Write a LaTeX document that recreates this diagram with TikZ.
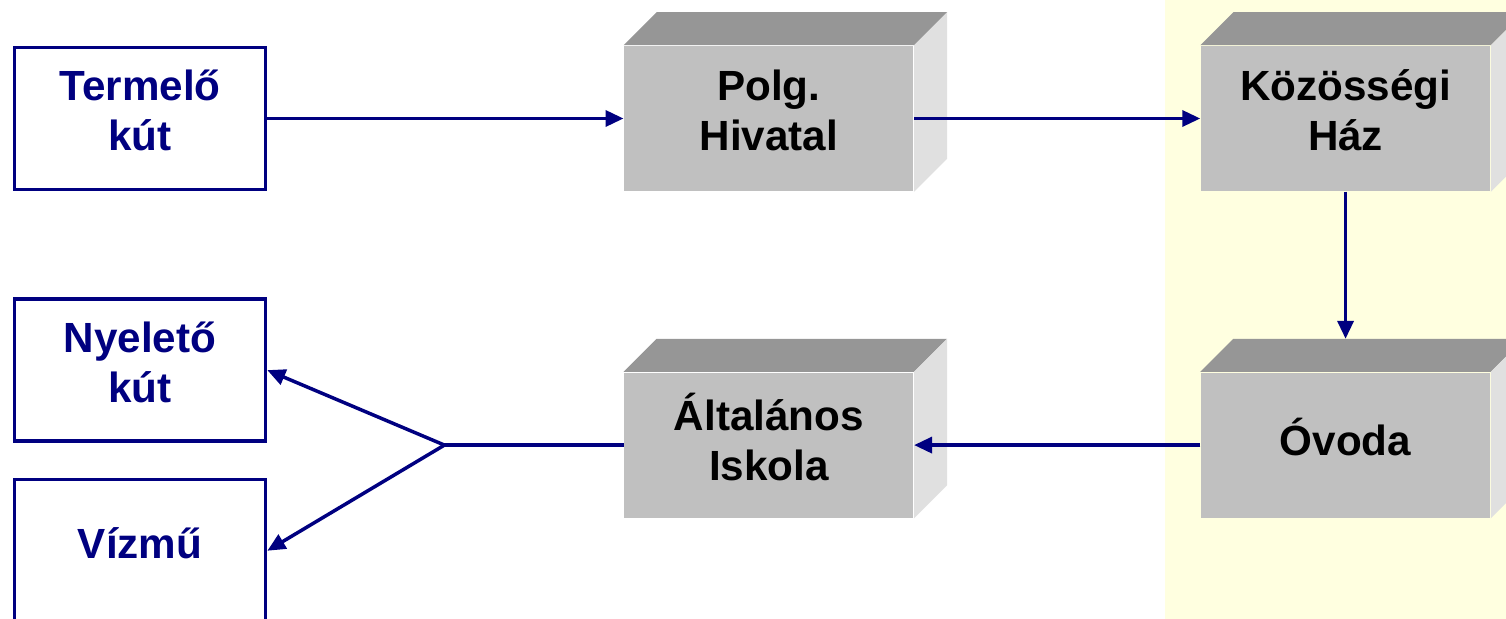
\documentclass[tikz,border=0pt]{standalone}
\usepackage{fontspec}
\setmainfont{Liberation Sans}
\usetikzlibrary{positioning,arrows.meta}
\definecolor{navy}{HTML}{000080}
\definecolor{topgray}{HTML}{969696}
\definecolor{frontgray}{HTML}{C0C0C0}
\definecolor{sidegray}{HTML}{E0E0E0}
\definecolor{band}{HTML}{FFFFE0}
\tikzset{
  boxfont/.style={font=\bfseries\fontsize{12}{14.2}\selectfont},
  well/.style={boxfont, draw=navy, line width=0.035cm, text=navy, minimum width=2.51cm, minimum height=1.42cm, align=center, text depth=0.16cm},
  block/.style={boxfont, fill=frontgray, minimum width=2.89cm, minimum height=1.45cm, inner sep=0pt, align=center, text depth=0.16cm},
  flow/.style={draw=navy, line width=0.035cm, -{Triangle[length=0.18cm,width=0.16cm]}}
}
\begin{document}
\begin{tikzpicture}[x=0.01cm,y=-0.01cm]
        \useasboundingbox (0,0) rectangle (1506,619);
        \fill[band] (1165,0) rectangle (1506,619);

        \node[well] (termelo) at (140,118.5) {Termelő\\kút};
        \node[well, below=1.06cm of termelo] (nyeleto) {Nyelető\\kút};
        \node[well, below=0.35cm of nyeleto] (vizmu) {Vízmű};
        \node[block, right=3.56cm of termelo] (polg) {Polg.\\Hivatal};
        \node[block, right=2.86cm of polg] (koz) {Közösségi\\Ház};
        \node[block, below=1.8cm of koz] (ovoda) {Óvoda};
        \node[block, left=2.86cm of ovoda] (alt) {Általános\\Iskola};
        \coordinate[left=1.79cm of alt] (fork);

        \foreach \b in {polg,koz,ovoda,alt} {
            \fill[topgray] (\b.north west) -- ++(33,-33) -- ([shift={(33,-33)}]\b.north east) -- (\b.north east) -- cycle;
            \fill[sidegray] (\b.north east) -- ++(33,-33) -- ([shift={(33,-33)}]\b.south east) -- (\b.south east) -- cycle;
        }

        \draw[flow] (termelo) -- (polg);
        \draw[flow] (polg) -- (koz);
        \draw[flow] (koz) -- ([yshift=0.33cm]ovoda.north);
        \draw[flow] (ovoda) -- (alt);
        \draw[navy, line width=0.035cm] (alt) -- (fork);
        \draw[flow] (fork) -- (nyeleto.east);
        \draw[flow] (fork) -- (vizmu.east);
    \end{tikzpicture}
\end{document}
